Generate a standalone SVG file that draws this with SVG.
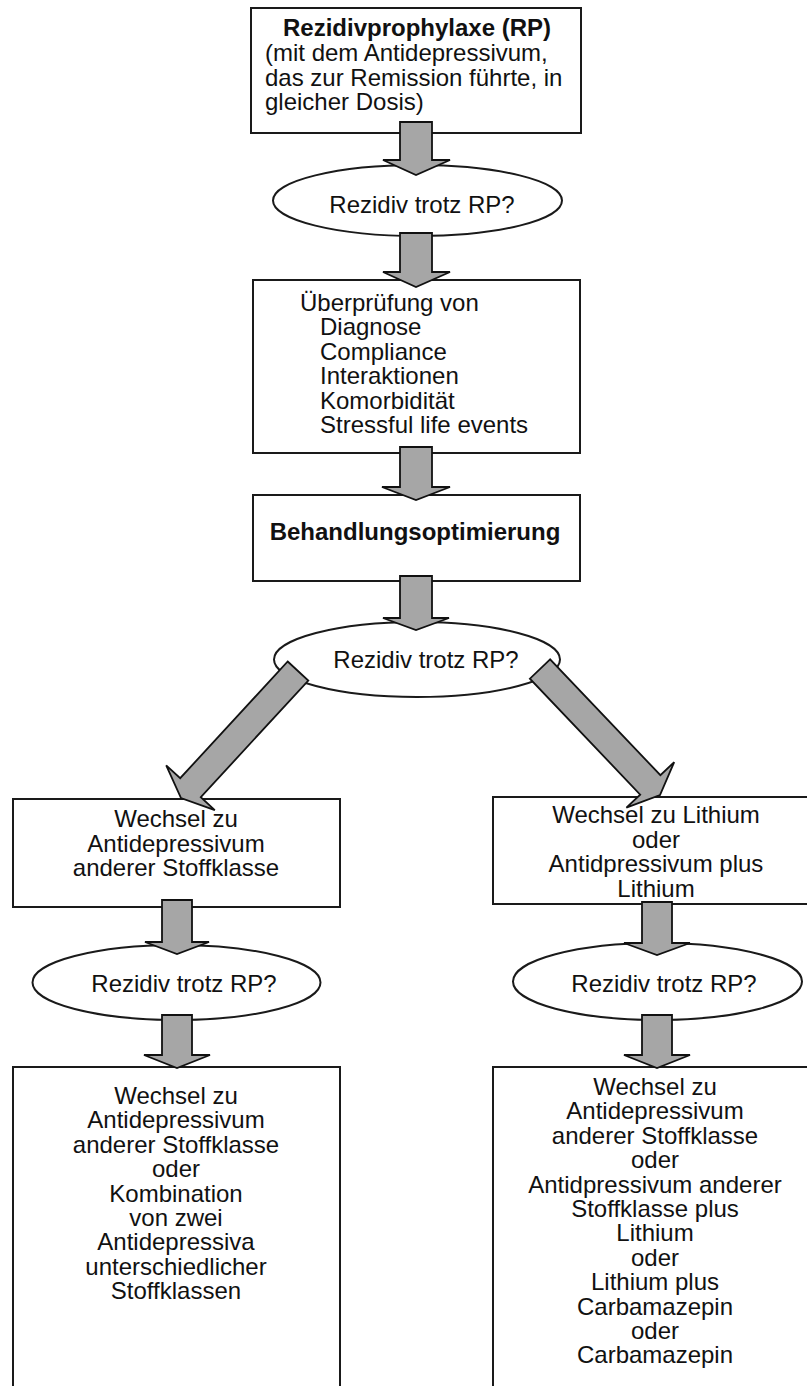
<svg xmlns="http://www.w3.org/2000/svg" width="807" height="1386" viewBox="0 0 807 1386">
<style>
.box{fill:#fff;stroke:#1a1a1a;stroke-width:2}
.ell{fill:#fff;stroke:#1a1a1a;stroke-width:2}
.arr{fill:#a6a6a6;stroke:#111;stroke-width:1.8;stroke-linejoin:miter}
text{font-family:"Liberation Sans",Arial,Helvetica,sans-serif;font-size:24px;fill:#111}
.b{font-weight:bold}
.c{text-anchor:middle}
</style>
<rect width="807" height="1386" fill="#fff"/>
<g id="n1">
<rect class="box" x="251" y="8" width="330" height="125"/>
<text class="b c" x="417" y="36">Rezidivprophylaxe (RP)</text>
<text x="265" y="61">(mit dem Antidepressivum,</text>
<text x="265" y="85.5">das zur Remission führte, in</text>
<text x="265" y="110">gleicher Dosis)</text>
</g>
<g id="n2">
<ellipse class="ell" cx="417.5" cy="200.5" rx="144.5" ry="35.5"/>
<text class="c" x="422" y="213">Rezidiv trotz RP?</text>
</g>
<g id="n3">
<rect class="box" x="253" y="280" width="327" height="173"/>
<text x="300" y="310.5">Überprüfung von</text>
<text x="320" y="335">Diagnose</text>
<text x="320" y="359.5">Compliance</text>
<text x="320" y="384">Interaktionen</text>
<text x="320" y="408.5">Komorbidität</text>
<text x="320" y="433">Stressful life events</text>
</g>
<g id="n4">
<rect class="box" x="253" y="495" width="327" height="86"/>
<text class="b c" x="415" y="540">Behandlungsoptimierung</text>
</g>
<g id="n5">
<ellipse class="ell" cx="417" cy="659.5" rx="143" ry="37.5"/>
<text class="c" x="426" y="668">Rezidiv trotz RP?</text>
</g>
<g id="n6">
<rect class="box" x="13" y="799" width="327" height="108"/>
<text class="c" x="176" y="827">Wechsel zu</text>
<text class="c" x="176" y="851.5">Antidepressivum</text>
<text class="c" x="176" y="876">anderer Stoffklasse</text>
</g>
<g id="n7">
<rect class="box" x="493" y="797" width="330" height="107"/>
<text class="c" x="656" y="823">Wechsel zu Lithium</text>
<text class="c" x="656" y="847.5">oder</text>
<text class="c" x="656" y="872">Antidpressivum plus</text>
<text class="c" x="656" y="896.5">Lithium</text>
</g>
<g id="n8">
<ellipse class="ell" cx="176.5" cy="982.5" rx="144" ry="37.5"/>
<text class="c" x="184" y="992">Rezidiv trotz RP?</text>
</g>
<g id="n9">
<ellipse class="ell" cx="657.5" cy="981.5" rx="144.5" ry="38.5"/>
<text class="c" x="664" y="992">Rezidiv trotz RP?</text>
</g>
<g id="n10">
<rect class="box" x="13" y="1067" width="327" height="340"/>
<text class="c" x="176" y="1104">Wechsel zu</text>
<text class="c" x="176" y="1128.4">Antidepressivum</text>
<text class="c" x="176" y="1152.8">anderer Stoffklasse</text>
<text class="c" x="176" y="1177.2">oder</text>
<text class="c" x="176" y="1201.6">Kombination</text>
<text class="c" x="176" y="1226">von zwei</text>
<text class="c" x="176" y="1250.4">Antidepressiva</text>
<text class="c" x="176" y="1274.8">unterschiedlicher</text>
<text class="c" x="176" y="1299.2">Stoffklassen</text>
</g>
<g id="n11">
<rect class="box" x="493" y="1067" width="330" height="340"/>
<text class="c" x="655" y="1095">Wechsel zu</text>
<text class="c" x="655" y="1119.4">Antidepressivum</text>
<text class="c" x="655" y="1143.8">anderer Stoffklasse</text>
<text class="c" x="655" y="1168.2">oder</text>
<text class="c" x="655" y="1192.6">Antidpressivum anderer</text>
<text class="c" x="655" y="1217">Stoffklasse plus</text>
<text class="c" x="655" y="1241.4">Lithium</text>
<text class="c" x="655" y="1265.8">oder</text>
<text class="c" x="655" y="1290.2">Lithium plus</text>
<text class="c" x="655" y="1314.6">Carbamazepin</text>
<text class="c" x="655" y="1339">oder</text>
<text class="c" x="655" y="1363.4">Carbamazepin</text>
</g>
<g id="connectors">
<polygon class="arr" points="400,122 432,122 432,160 450,160 416,175 383,160 400,160"/>
<polygon class="arr" points="400,233 432,233 432,272 450,272 416,287 383,272 400,272"/>
<polygon class="arr" points="400,447 432,447 432,487 450,487 416,500 382,487 400,487"/>
<polygon class="arr" points="400,576 432,576 432,618 449,618 416,630 383,618 400,618"/>
<polygon class="arr" points="287.7,661.5 308.3,680.5 200.8,797.2 214.8,810.1 181,798 166.2,765.3 180.2,778.2"/>
<polygon class="arr" points="550.1,659.3 529.9,678.7 640.2,794.6 626.4,807.7 660,795 674.2,762.1 660.4,775.2"/>
<polygon class="arr" points="162,900 192,900 192,942 209,942 177,954 145,942 162,942"/>
<polygon class="arr" points="642,902 672,902 672,943 690,943 657,955 624,943 642,943"/>
<polygon class="arr" points="162,1015 192,1015 192,1055 210,1055 177,1068 144,1055 162,1055"/>
<polygon class="arr" points="642,1015 672,1015 672,1055 690,1055 657,1068 624,1055 642,1055"/>
</g>
</svg>
